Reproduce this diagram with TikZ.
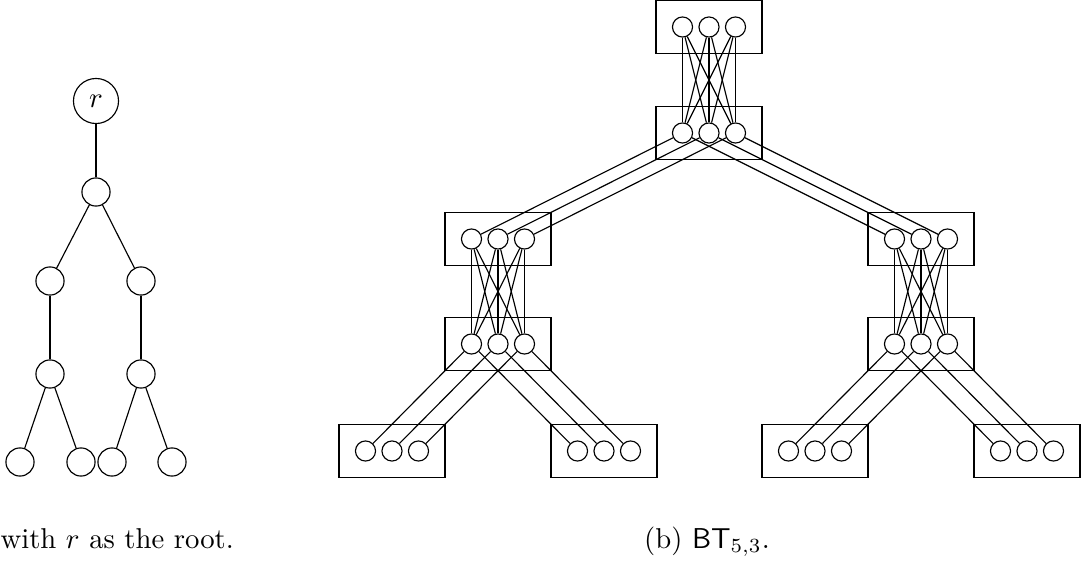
\documentclass[tikz,border=0pt]{standalone}
\usetikzlibrary{calc}
\tikzset{
  vtx/.style={circle, draw, inner sep=0pt, minimum size=9.8pt},
  rootvtx/.style={circle, draw, inner sep=0pt, minimum size=15.7pt},
  dot/.style={circle, draw, inner sep=0pt, minimum size=7pt},
  bag/.style={rectangle, draw, inner sep=0pt, minimum width=36.9pt, minimum height=18.5pt},
  captext/.style={inner sep=0pt, font=\normalsize}
}
% a bag: a box holding three small vertices, named <name>-1..3
\newcommand{\bagat}[3]{%
  \node[bag] (#1) at (#2,#3) {};
  \foreach \k/\dx in {1/-26.5,2/0,3/26.5}
    \node[dot] (#1-\k) at ({#2+(\dx)},#3) {};
}
\begin{document}
\begin{tikzpicture}[x=0.3484pt, y=-0.3484pt]
\useasboundingbox (0,0) rectangle (1090,562);

% ---- (a) the tree rooted at r ----
\node[rootvtx] (r) at (96,101) {$r$};
\node[vtx] (a) at (96,192) {};
\node[vtx] (b1) at (50,281) {};
\node[vtx] (b2) at (141,281) {};
\node[vtx] (c1) at (50,374) {};
\node[vtx] (c2) at (141,374) {};
\node[vtx] (d1) at (20,462) {};
\node[vtx] (d2) at (81,462) {};
\node[vtx] (d3) at (112,462) {};
\node[vtx] (d4) at (172,462) {};
\draw (r) -- (a);
\draw (a) -- (b1);
\draw (a) -- (b2);
\draw (b1) -- (c1);
\draw (b2) -- (c2);
\draw (c1) -- (d1);
\draw (c1) -- (d2);
\draw (c2) -- (d3);
\draw (c2) -- (d4);
\node[captext, anchor=base west] (capa) at (0,548) {with $r$ as the root.};

% ---- (b) the bag tree BT_{5,3} ----
\bagat{T1}{709}{27}
\bagat{T2}{709}{133}
\bagat{L3}{498}{239}
\bagat{R3}{921}{239}
\bagat{L4}{498}{344}
\bagat{R4}{921}{344}
\bagat{B1}{392}{451}
\bagat{B2}{604}{451}
\bagat{B3}{815}{451}
\bagat{B4}{1027}{451}

% complete bipartite joins inside a path segment
\foreach \i in {1,2,3}
  \foreach \j in {1,2,3} {
    \draw (T1-\i) -- (T2-\j);
    \draw (L3-\i) -- (L4-\j);
    \draw (R3-\i) -- (R4-\j);
  }
% parallel joins between branching bags
\foreach \i in {1,2,3} {
  \draw (T2-\i) -- (L3-\i);
  \draw (T2-\i) -- (R3-\i);
  \draw (L4-\i) -- (B1-\i);
  \draw (L4-\i) -- (B2-\i);
  \draw (R4-\i) -- (B3-\i);
  \draw (R4-\i) -- (B4-\i);
}
\node[captext, anchor=base] (capb) at (707,548) {(b) $\mathsf{BT}_{5,3}$.};
\end{tikzpicture}
\end{document}
